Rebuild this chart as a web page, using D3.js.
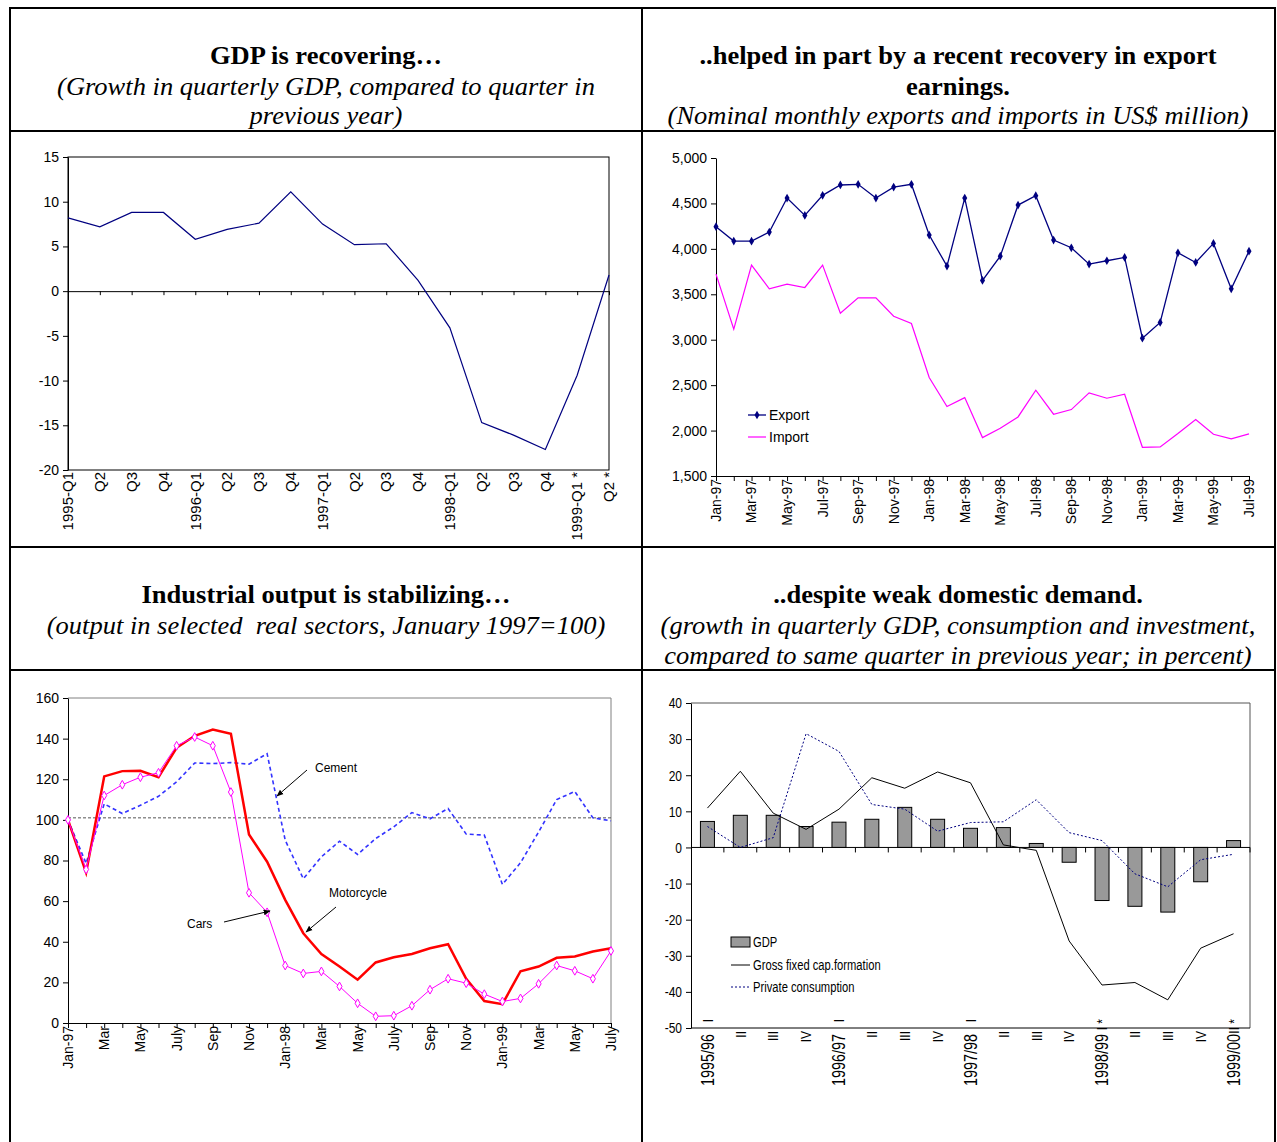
<!DOCTYPE html>
<html><head><meta charset="utf-8">
<script src="https://cdn.jsdelivr.net/npm/d3@7/dist/d3.min.js"></script>
<style>
body{margin:0;background:#fff}
svg text{font-family:"Liberation Sans",Arial,sans-serif;fill:#000}
.serif{font-family:"Liberation Serif","Times New Roman",serif !important;white-space:pre}
</style></head><body>
<svg id="c" width="1277" height="1142"></svg>
<script>
// ---------------- DATA ----------------
const gdpQuarters = ["1995-Q1","Q2","Q3","Q4","1996-Q1","Q2","Q3","Q4","1997-Q1","Q2","Q3","Q4","1998-Q1","Q2","Q3","Q4","1999-Q1 *","Q2 *"];
const gdpGrowth = [8.2,7.2,8.8,8.8,5.8,6.9,7.6,11.1,7.5,5.2,5.3,1.2,-4.1,-14.7,-16.1,-17.7,-9.4,1.8];
const gdpTicks = [-20,-15,-10,-5,0,5,10,15];

const tradeMonths = ["Jan-97","Feb-97","Mar-97","Apr-97","May-97","Jun-97","Jul-97","Aug-97","Sep-97","Oct-97","Nov-97","Dec-97",
  "Jan-98","Feb-98","Mar-98","Apr-98","May-98","Jun-98","Jul-98","Aug-98","Sep-98","Oct-98","Nov-98","Dec-98",
  "Jan-99","Feb-99","Mar-99","Apr-99","May-99","Jun-99","Jul-99"];
const tradeLabels = ["Jan-97","Mar-97","May-97","Jul-97","Sep-97","Nov-97","Jan-98","Mar-98","May-98","Jul-98","Sep-98","Nov-98","Jan-99","Mar-99","May-99","Jul-99"];
const exportsUSD = [4244,4086,4085,4185,4559,4368,4589,4703,4710,4559,4680,4710,4152,3810,4559,3652,3920,4482,4585,4097,4012,3832,3869,3906,3017,3190,3957,3850,4060,3560,3975];
const importsUSD = [3722,3116,3821,3560,3612,3575,3821,3292,3461,3461,3259,3178,2584,2264,2363,1923,2025,2150,2444,2180,2231,2415,2356,2400,1816,1820,1967,2121,1960,1908,1963];
const tradeTicks = [1500,2000,2500,3000,3500,4000,4500,5000];

const industryLabels = ["Jan-97","Mar","May","July","Sep","Nov","Jan-98","Mar","May","July","Sep","Nov","Jan-99","Mar","May","July"];
const motorcycle = [100,74,121.4,124,124.2,121,135.5,141.4,144.5,142.4,92.8,79.4,60.6,44.2,33.9,27.8,21.3,29.8,32.4,34,36.8,38.8,21.8,10.8,9.3,25.5,27.8,32.1,32.7,35.2,36.8];
const cars = [100,75.6,112,117.3,121,123.2,136.5,140.8,136.5,113.7,64.1,54.5,28.3,24.4,25.4,18,9.7,3.3,3.6,8.5,16.4,21.8,19.6,14.2,10.6,12.1,19.3,28.3,25.7,21.8,35.5];
const cement = [100,78.6,107.9,103.1,107.2,111.6,118.7,128,127.7,128.2,127.4,132.6,90,71,81.8,89.5,83,90.8,96.6,103.6,100.5,105.6,93,92.5,68.2,78.9,94,110,114,101,99.5];
const baseLevel = 101;
const industryTicks = [0,20,40,60,80,100,120,140,160];

const demandQuarters = ["I","II","III","IV","I","II","III","IV","I","II","III","IV","I","II","III","IV","II"];
const demandYears = ["1995/96","","","","1996/97","","","","1997/98","","","","1998/99","","","","1999/00"];
const demandStars = ["","","","","","","","","","","","","*","","","","*"];
const gdpBars = [7.2,8.9,8.9,5.8,7.0,7.8,11.1,7.8,5.3,5.5,1.1,-4.1,-14.7,-16.3,-17.9,-9.5,1.9];
const grossFixed = [10.9,21.1,9.5,5.0,10.6,19.3,16.4,20.9,17.9,0.7,-0.8,-25.9,-38.1,-37.4,-42.2,-27.9,-23.9];
const privateCons = [5.8,0,2.7,31.5,26.6,11.9,10.6,4.5,6.9,7.1,13.2,4.1,1.9,-7.3,-10.9,-3.4,-1.9];
const demandTicks = [-50,-40,-30,-20,-10,0,10,20,30,40];

// ---------------- DRAW ----------------
const svg = d3.select("#c");
const plain = d => String(d);           // hyphen-minus like the original
const narrowNodes = [];

// table grid
const grid = svg.append("g").attr("stroke","#000").attr("stroke-width",2);
[[10,7,10,1142],[642,7,642,1142],[1275,7,1275,1142],[9,8,1276,8],[9,131,1276,131],[9,547,1276,547],[9,670,1276,670]]
  .forEach(d=>grid.append("line").attr("x1",d[0]).attr("y1",d[1]).attr("x2",d[2]).attr("y2",d[3]));

function title(cx, lines){
  lines.forEach(l=>{
    const t = svg.append("text").attr("class","serif").attr("x",cx).attr("y",l.y)
      .attr("text-anchor","middle").style("font-size","25px")
      .style("font-weight",l.b?"bold":"normal").style("font-style",l.i?"italic":"normal").text(l.t);
    const L = t.node().getComputedTextLength();
    t.attr("textLength",L*1.06).attr("lengthAdjust","spacingAndGlyphs");
  });
}
title(326,[{t:"GDP is recovering…",y:64,b:1},{t:"(Growth in quarterly GDP, compared to quarter in",y:95,i:1},{t:"previous year)",y:124,i:1}]);
title(958,[{t:"..helped in part by a recent recovery in export",y:64,b:1},{t:"earnings.",y:95,b:1},{t:"(Nominal monthly exports and imports in US$ million)",y:124,i:1}]);
title(326,[{t:"Industrial output is stabilizing…",y:603,b:1},{t:"(output in selected  real sectors, January 1997=100)",y:634,i:1}]);
title(958,[{t:"..despite weak domestic demand.",y:603,b:1},{t:"(growth in quarterly GDP, consumption and investment,",y:634,i:1},{t:"compared to same quarter in previous year; in percent)",y:664,i:1}]);

function rotText(g, x, y, txt, size, narrow){
  const t = g.append("text").attr("transform",`translate(${x},${y}) rotate(-90)`)
    .attr("text-anchor","end").attr("dy","0.35em").style("font-size",size).text(txt);
  if(narrow) narrowNodes.push(t.node());
  return t;
}
function yAxis(g, x, y, ticks, size, narrow){
  const a = g.append("g").attr("transform",`translate(${x},0)`)
    .call(d3.axisLeft(y).tickValues(ticks).tickFormat(plain).tickSize(5).tickPadding(4).tickSizeOuter(0));
  a.attr("font-family",null).attr("font-size",null);
  a.select(".domain").attr("stroke","#000");
  a.selectAll(".tick line").attr("stroke","#000");
  a.selectAll("text").style("font-size",size);
  if(narrow) a.selectAll("text").each(function(){ narrowNodes.push(this); });
  return a;
}

// ===== Chart 1: GDP =====
{
  const g = svg.append("g");
  const x = d3.scalePoint().domain(d3.range(gdpQuarters.length)).range([68,609]);
  const y = d3.scaleLinear().domain([-20,15]).range([470,157]);
  g.append("rect").attr("x",68).attr("y",157).attr("width",541).attr("height",313).attr("fill","none").attr("stroke","#000").attr("stroke-width",1);
  yAxis(g,68,y,gdpTicks,"14px");
  const z = g.append("g").attr("transform",`translate(0,${y(0)})`)
    .call(d3.axisBottom(x).tickSize(4).tickFormat("").tickSizeOuter(0));
  z.select(".domain").attr("stroke","#000");
  z.selectAll(".tick line").attr("stroke","#000");
  g.append("path").datum(gdpGrowth)
    .attr("d",d3.line().x((d,i)=>x(i)).y(d=>y(d)))
    .attr("fill","none").attr("stroke","#000080").attr("stroke-width",1.2);
  gdpQuarters.forEach((q,i)=>rotText(g,x(i),472,q,"15px"));
}

// ===== Chart 2: Exports / Imports =====
{
  const g = svg.append("g");
  const x = d3.scalePoint().domain(d3.range(tradeMonths.length)).range([716,1249]);
  const y = d3.scaleLinear().domain([1500,5000]).range([476,158]);
  const a = g.append("g").attr("transform",`translate(716,0)`)
    .call(d3.axisLeft(y).tickValues(tradeTicks).tickFormat(d3.format(",")).tickSize(5).tickPadding(4).tickSizeOuter(0));
  a.attr("font-family",null).attr("font-size",null);
  a.selectAll("text").style("font-size","14px");
  const b = g.append("g").attr("transform",`translate(0,476)`)
    .call(d3.axisBottom(x).tickSize(5).tickFormat("").tickSizeOuter(0));
  b.select(".domain").attr("stroke","#000");
  b.selectAll(".tick line").attr("stroke","#000");
  const line = d3.line().x((d,i)=>x(i)).y(d=>y(d));
  g.append("path").datum(importsUSD).attr("d",line).attr("fill","none").attr("stroke","#ff00ff").attr("stroke-width",1.2);
  g.append("path").datum(exportsUSD).attr("d",line).attr("fill","none").attr("stroke","#000080").attr("stroke-width",1.3);
  g.selectAll(".exm").data(exportsUSD).join("path")
    .attr("transform",(d,i)=>`translate(${x(i)},${y(d)})`)
    .attr("d",d3.symbol(d3.symbolDiamond,22)).attr("fill","#000080");
  tradeMonths.forEach((m,i)=>{ if(tradeLabels.indexOf(m)>=0) rotText(g,x(i),479,m,"14px"); });
  g.append("line").attr("x1",748).attr("x2",766).attr("y1",415).attr("y2",415).attr("stroke","#000080").attr("stroke-width",1.3);
  g.append("path").attr("transform","translate(757,415)").attr("d",d3.symbol(d3.symbolDiamond,22)).attr("fill","#000080");
  g.append("text").attr("x",769).attr("y",420).style("font-size","14px").text("Export");
  g.append("line").attr("x1",748).attr("x2",766).attr("y1",437).attr("y2",437).attr("stroke","#ff00ff").attr("stroke-width",1.2);
  g.append("text").attr("x",769).attr("y",442).style("font-size","14px").text("Import");
}

// ===== Chart 3: Industrial output =====
{
  const g = svg.append("g");
  const x = d3.scalePoint().domain(d3.range(motorcycle.length)).range([68,611]);
  const y = d3.scaleLinear().domain([0,160]).range([1023,698]);
  g.append("line").attr("x1",68).attr("x2",611).attr("y1",698).attr("y2",698).attr("stroke","#808080");
  g.append("line").attr("x1",611).attr("x2",611).attr("y1",698).attr("y2",1023).attr("stroke","#808080");
  yAxis(g,68,y,industryTicks,"14px");
  const b = g.append("g").attr("transform",`translate(0,1023)`)
    .call(d3.axisBottom(x).tickSize(5).tickFormat("").tickSizeOuter(0));
  b.select(".domain").attr("stroke","#000");
  b.selectAll(".tick line").attr("stroke","#000");
  g.append("line").attr("x1",68).attr("x2",611).attr("y1",y(baseLevel)).attr("y2",y(baseLevel))
    .attr("stroke","#555").attr("stroke-width",1).attr("stroke-dasharray","3,2");
  const line = d3.line().x((d,i)=>x(i)).y(d=>y(d));
  g.append("path").datum(cement).attr("d",line).attr("fill","none").attr("stroke","#3333ff").attr("stroke-width",1.6).attr("stroke-dasharray","4,3");
  g.append("path").datum(motorcycle).attr("d",line).attr("fill","none").attr("stroke","#ff0000").attr("stroke-width",2.5);
  g.append("path").datum(cars).attr("d",line).attr("fill","none").attr("stroke","#ff00ff").attr("stroke-width",1);
  g.selectAll(".cm").data(cars).join("path")
    .attr("transform",(d,i)=>`translate(${x(i)},${y(d)})`)
    .attr("d",d3.symbol(d3.symbolDiamond,22)).attr("fill","#fff").attr("stroke","#ff00ff").attr("stroke-width",1);
  let k=0;
  motorcycle.forEach((d,i)=>{ if(i%2===0){ rotText(g,x(i),1026,industryLabels[k],"14px"); k++; } });
  const defs = svg.append("defs");
  defs.append("marker").attr("id","ah").attr("viewBox","0 0 10 10").attr("refX",9).attr("refY",5)
    .attr("markerWidth",7).attr("markerHeight",7).attr("orient","auto")
    .append("path").attr("d","M0,1L10,5L0,9z").attr("fill","#000");
  const ann = [{t:"Cement",tx:315,ty:772,x1:307,y1:770,x2:277,y2:796},
               {t:"Motorcycle",tx:329,ty:897,x1:336,y1:907,x2:306,y2:932},
               {t:"Cars",tx:187,ty:928,x1:224,y1:922,x2:270,y2:911}];
  ann.forEach(a=>{
    g.append("text").attr("x",a.tx).attr("y",a.ty).style("font-size","12px").text(a.t);
    g.append("line").attr("x1",a.x1).attr("y1",a.y1).attr("x2",a.x2).attr("y2",a.y2)
      .attr("stroke","#000").attr("stroke-width",1).attr("marker-end","url(#ah)");
  });
}

// ===== Chart 4: Domestic demand =====
{
  const g = svg.append("g");
  const x = d3.scaleBand().domain(d3.range(gdpBars.length)).range([691,1250]);
  const y = d3.scaleLinear().domain([-50,40]).range([1028,703]);
  g.append("line").attr("x1",691).attr("x2",1250).attr("y1",703).attr("y2",703).attr("stroke","#555");
  g.append("line").attr("x1",1250).attr("x2",1250).attr("y1",703).attr("y2",1028).attr("stroke","#555");
  g.append("line").attr("x1",691).attr("x2",1250).attr("y1",1028).attr("y2",1028).attr("stroke","#000");
  yAxis(g,691,y,demandTicks,"15px",true);
  const bw = 14;
  g.selectAll(".bar").data(gdpBars).join("rect")
    .attr("x",(d,i)=>x(i)+x.bandwidth()/2-bw/2).attr("width",bw)
    .attr("y",d=>y(Math.max(0,d))).attr("height",d=>Math.abs(y(d)-y(0)))
    .attr("fill","#999999").attr("stroke","#000").attr("stroke-width",1);
  g.append("line").attr("x1",691).attr("x2",1250).attr("y1",y(0)).attr("y2",y(0)).attr("stroke","#000");
  d3.range(1,gdpBars.length+1).forEach(i=>{
    const xx = 691 + i*x.step();
    g.append("line").attr("x1",xx).attr("x2",xx).attr("y1",y(0)).attr("y2",y(0)+5).attr("stroke","#000");
  });
  const cx = i=>x(i)+x.bandwidth()/2;
  const line = d3.line().x((d,i)=>cx(i)).y(d=>y(d));
  g.append("path").datum(grossFixed).attr("d",line).attr("fill","none").attr("stroke","#000").attr("stroke-width",1);
  g.append("path").datum(privateCons).attr("d",line).attr("fill","none").attr("stroke","#000080").attr("stroke-width",1).attr("stroke-dasharray","2,2");
  demandQuarters.forEach((q,i)=>{
    if(demandYears[i]){
      rotText(g,cx(i),1019,q+(demandStars[i]?" "+demandStars[i]:""),"15px",true);
      rotText(g,cx(i),1034,demandYears[i],"18px",true);
    } else {
      rotText(g,cx(i),1031,q,"15px",true);
    }
  });
  g.append("rect").attr("x",731).attr("y",937).attr("width",19).attr("height",10).attr("fill","#999999").attr("stroke","#000");
  const lt = (yy,t)=>{ const n=g.append("text").attr("x",753).attr("y",yy).style("font-size","14px").text(t); narrowNodes.push(n.node()); };
  lt(947,"GDP");
  g.append("line").attr("x1",731).attr("x2",750).attr("y1",965).attr("y2",965).attr("stroke","#000");
  lt(970,"Gross fixed cap.formation");
  g.append("line").attr("x1",731).attr("x2",750).attr("y1",987).attr("y2",987).attr("stroke","#000080").attr("stroke-dasharray","2,2");
  lt(992,"Private consumption");
}

// condensed look (Arial Narrow in the original)
narrowNodes.forEach(n=>{
  const L = n.getComputedTextLength();
  if(L>0){ n.setAttribute("textLength", (L*0.8).toFixed(2)); n.setAttribute("lengthAdjust","spacingAndGlyphs"); }
});
</script>
</body></html>
